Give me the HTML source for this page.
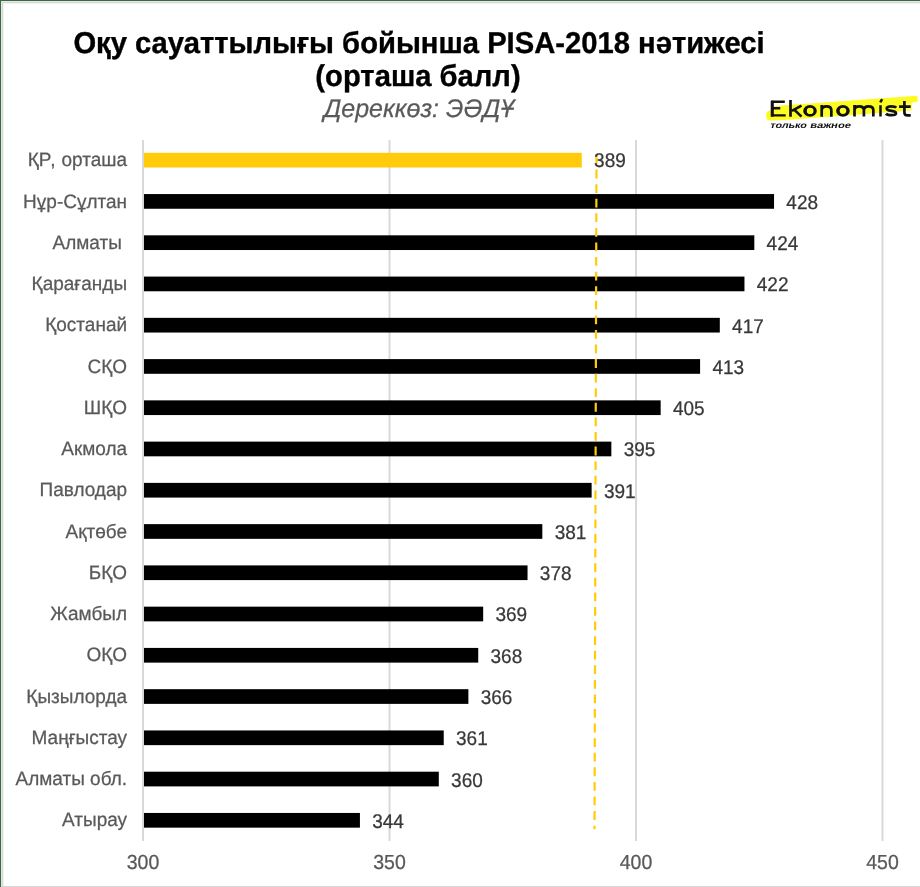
<!DOCTYPE html>
<html><head><meta charset="utf-8"><title>PISA-2018</title>
<style>
html,body{margin:0;padding:0;background:#fff;}
body{width:920px;height:887px;overflow:hidden;position:relative;font-family:"Liberation Sans",sans-serif;}
svg{position:absolute;left:0;top:0;display:block;}
.gs{filter:grayscale(1);}
text{font-family:"Liberation Sans",sans-serif;text-rendering:geometricPrecision;}
.cat{font-size:19px;fill:#595959;stroke:#595959;stroke-width:0.25px;}
.val{font-size:19px;fill:#383838;stroke:#383838;stroke-width:0.25px;}
.ax{font-size:19.5px;fill:#595959;stroke:#595959;stroke-width:0.25px;}
.t1{font-size:29.2px;font-weight:bold;fill:#000;stroke:#000;stroke-width:0.35px;}
.sub{font-size:25px;font-style:italic;fill:#595959;stroke:#595959;stroke-width:0.25px;}
</style></head>
<body>
<svg width="920" height="887" viewBox="0 0 920 887">
<rect x="0" y="0" width="920" height="887" fill="#fff"/>
<!-- frame -->
<rect x="0" y="0" width="920" height="1" fill="#386b40"/>
<rect x="0" y="0" width="1" height="887" fill="#386b40"/>
<rect x="1" y="1" width="919" height="1" fill="#e6e5e7"/>
<rect x="1" y="1" width="1" height="886" fill="#e6e5e7"/>
<rect x="2" y="2" width="918" height="1" fill="#d8d8d8"/>
<rect x="2" y="2" width="1" height="885" fill="#d8d8d8"/>
<rect x="3" y="3" width="917" height="1" fill="#f2f2f2"/>
<rect x="3" y="3" width="1" height="883" fill="#f2f2f2"/>
<rect x="1" y="886" width="919" height="1" fill="#d6d6d6"/>
<!-- title -->
<g class="gs">
<text class="t1" x="419" y="52.8" text-anchor="middle" transform="matrix(1,0,0,1.03,0,-1.584)">Оқу сауаттылығы бойынша PISA-2018 нәтижесі</text>
<text class="t1" x="418" y="85.8" text-anchor="middle" transform="matrix(1,0,0,1.03,0,-2.574)">(орташа балл)</text>
<text class="sub" x="419" y="117.2" text-anchor="middle" transform="matrix(1,0,0,1.02,0,-2.344)">Дереккөз: ЭӘДҰ</text>
</g>
<!-- logo -->
<path d="M766.2,114.5 C766.2,111.8 767.5,110.9 771,110.5 L775,106 L792,104.8 L917.2,95.8 L917.8,101.5 L912.3,102.5 L911.8,110.6 L792,119.5 L780,120.3 L768,120.6 C766.2,119 766,116 766.2,114.5 Z" fill="#FDFC22"/>
<path d="M905,103 L912.3,102.5 L911.8,110.6 L905,111.1 Z" fill="#FFF" fill-opacity="0.35"/>
<g fill="none" stroke="#111" stroke-width="2.7" stroke-linecap="butt" stroke-linejoin="miter">
<path d="M784.8,101.8 H772.2 V115.4 H785.7 M772.2,108.3 H780.3" stroke-width="2.4"/>
<path d="M772.2,100.8 V116.7" stroke-width="3"/>
<path d="M790.5,100 V116.7 M801.5,105.6 L791.9,110.9 M794.2,109.6 L801.5,116.6"/>
<path d="M821.7,116.8 V105.1 M821.7,110.5 C821.7,107.5 823.8,106.4 826.5,106.4 C829.2,106.4 831.35,107.5 831.35,110.5 V116.8"/>
<path d="M854.5,116.6 V105 M854.5,110.3 C854.5,107.4 856.3,106.3 859.2,106.3 C862,106.3 863.9,107.4 863.9,110.3 V116.6 M863.9,110.3 C863.9,107.4 865.7,106.3 868.6,106.3 C871.4,106.3 873.35,107.4 873.35,110.3 V116.6"/>
<path d="M880.5,105.3 V116.5 M880.2,102.4 L882.2,99.1" stroke-width="2.5"/>
<path d="M896.3,107.6 C895.3,106.5 893.5,106.3 891.3,106.3 C888,106.3 886.7,107.3 886.7,108.6 C886.7,110.2 888.5,110.6 891.3,110.9 C894.5,111.2 896,111.9 896,113.4 C896,114.9 894.3,115.1 891.3,115.1 C888.5,115.1 886.8,114.6 886,113.6"/>
<path d="M904.4,100.9 V112.4 C904.4,114.5 905.5,115.3 907.6,115.3 H910.7 M899.1,106.6 H910.7"/>
</g>
<path fill="#111" fill-rule="evenodd" d="M803.2,110.9 A6.8,5.8 0 1 0 816.8,110.9 A6.8,5.8 0 1 0 803.2,110.9 Z M806.8,110.9 A3.35,3.15 0 1 0 813.5,110.9 A3.35,3.15 0 1 0 806.8,110.9 Z"/>
<path fill="#111" fill-rule="evenodd" d="M836.1,110.85 A6.85,5.85 0 1 0 849.8,110.85 A6.85,5.85 0 1 0 836.1,110.85 Z M839.7,110.85 A3.3,3.15 0 1 0 846.3,110.85 A3.3,3.15 0 1 0 839.7,110.85 Z"/>
<g class="gs" transform="translate(0,128.2) skewX(-13)" style="font-size:8.6px;font-weight:bold;fill:#111">
<text x="769.8" y="0" textLength="36.6" lengthAdjust="spacingAndGlyphs">только</text>
<text x="809.7" y="0" textLength="40.8" lengthAdjust="spacingAndGlyphs">важное</text>
</g>
<!-- chart -->
<rect x="388.50" y="140" width="2" height="701" fill="#d9d9d9"/>
<rect x="635.00" y="140" width="2" height="701" fill="#d9d9d9"/>
<rect x="881.50" y="140" width="2" height="701" fill="#d9d9d9"/>
<rect x="142.00" y="140" width="2" height="701" fill="#d9d9d9"/>
<rect x="144.00" y="152.80" width="437.77" height="14.7" fill="#FFCB0A"/>
<rect x="144.00" y="194.06" width="630.04" height="14.7" fill="#000"/>
<rect x="144.00" y="235.32" width="610.32" height="14.7" fill="#000"/>
<rect x="144.00" y="276.58" width="600.46" height="14.7" fill="#000"/>
<rect x="144.00" y="317.84" width="575.81" height="14.7" fill="#000"/>
<rect x="144.00" y="359.10" width="556.09" height="14.7" fill="#000"/>
<rect x="144.00" y="400.36" width="516.65" height="14.7" fill="#000"/>
<rect x="144.00" y="441.62" width="467.35" height="14.7" fill="#000"/>
<rect x="144.00" y="482.88" width="447.63" height="14.7" fill="#000"/>
<rect x="144.00" y="524.14" width="398.33" height="14.7" fill="#000"/>
<rect x="144.00" y="565.40" width="383.54" height="14.7" fill="#000"/>
<rect x="144.00" y="606.66" width="339.17" height="14.7" fill="#000"/>
<rect x="144.00" y="647.92" width="334.24" height="14.7" fill="#000"/>
<rect x="144.00" y="689.18" width="324.38" height="14.7" fill="#000"/>
<rect x="144.00" y="730.44" width="299.73" height="14.7" fill="#000"/>
<rect x="144.00" y="771.70" width="294.80" height="14.7" fill="#000"/>
<rect x="144.00" y="812.96" width="215.92" height="14.7" fill="#000"/>
<line x1="596.5" y1="155" x2="594.5" y2="829.2" stroke="#FFCB0A" stroke-width="2.2" stroke-dasharray="8.8 5.78"/>
<g class="gs">
<text class="cat" x="127.1" y="166.30" text-anchor="end" transform="matrix(1,0,0,1.02,0,-3.326)">ҚР<tspan dx="2.2">,</tspan><tspan dx="0.8"> орташа</tspan></text>
<text class="val" x="594.07" y="166.80" transform="matrix(1,0,0,1.042,0,-7.006)">389</text>
<text class="cat" x="127.1" y="207.56" text-anchor="end" transform="matrix(1,0,0,1.02,0,-4.151)">Нұр-Сұлтан</text>
<text class="val" x="786.34" y="208.86" transform="matrix(1,0,0,1.042,0,-8.772)">428</text>
<text class="cat" x="127.1" y="248.82" text-anchor="end" transform="matrix(1,0,0,1.02,0,-4.976)">Алматы </text>
<text class="val" x="766.62" y="250.12" transform="matrix(1,0,0,1.042,0,-10.505)">424</text>
<text class="cat" x="127.1" y="290.08" text-anchor="end" transform="matrix(1,0,0,1.02,0,-5.802)">Қарағанды</text>
<text class="val" x="756.76" y="291.38" transform="matrix(1,0,0,1.042,0,-12.238)">422</text>
<text class="cat" x="127.1" y="331.34" text-anchor="end" transform="matrix(1,0,0,1.02,0,-6.627)">Қостанай</text>
<text class="val" x="732.11" y="332.64" transform="matrix(1,0,0,1.042,0,-13.971)">417</text>
<text class="cat" x="127.1" y="372.60" text-anchor="end" transform="matrix(1,0,0,1.02,0,-7.452)">СҚО</text>
<text class="val" x="712.39" y="373.90" transform="matrix(1,0,0,1.042,0,-15.704)">413</text>
<text class="cat" x="127.1" y="413.86" text-anchor="end" transform="matrix(1,0,0,1.02,0,-8.277)">ШҚО</text>
<text class="val" x="672.95" y="415.16" transform="matrix(1,0,0,1.042,0,-17.437)">405</text>
<text class="cat" x="127.1" y="455.12" text-anchor="end" transform="matrix(1,0,0,1.02,0,-9.102)">Акмола</text>
<text class="val" x="623.65" y="456.42" transform="matrix(1,0,0,1.042,0,-19.170)">395</text>
<text class="cat" x="127.1" y="496.38" text-anchor="end" transform="matrix(1,0,0,1.02,0,-9.928)">Павлодар</text>
<text class="val" x="603.93" y="497.68" transform="matrix(1,0,0,1.042,0,-20.903)">391</text>
<text class="cat" x="127.1" y="537.64" text-anchor="end" transform="matrix(1,0,0,1.02,0,-10.753)">Ақтөбе</text>
<text class="val" x="554.63" y="538.94" transform="matrix(1,0,0,1.042,0,-22.635)">381</text>
<text class="cat" x="127.1" y="578.90" text-anchor="end" transform="matrix(1,0,0,1.02,0,-11.578)">БҚО</text>
<text class="val" x="539.84" y="580.20" transform="matrix(1,0,0,1.042,0,-24.368)">378</text>
<text class="cat" x="127.1" y="620.16" text-anchor="end" transform="matrix(1,0,0,1.02,0,-12.403)">Жамбыл</text>
<text class="val" x="495.47" y="621.46" transform="matrix(1,0,0,1.042,0,-26.101)">369</text>
<text class="cat" x="127.1" y="661.42" text-anchor="end" transform="matrix(1,0,0,1.02,0,-13.228)">ОҚО</text>
<text class="val" x="490.54" y="662.72" transform="matrix(1,0,0,1.042,0,-27.834)">368</text>
<text class="cat" x="127.1" y="702.68" text-anchor="end" transform="matrix(1,0,0,1.02,0,-14.054)">Қызылорда</text>
<text class="val" x="480.68" y="703.98" transform="matrix(1,0,0,1.042,0,-29.567)">366</text>
<text class="cat" x="127.1" y="743.94" text-anchor="end" transform="matrix(1,0,0,1.02,0,-14.879)">Маңғыстау</text>
<text class="val" x="456.03" y="745.24" transform="matrix(1,0,0,1.042,0,-31.300)">361</text>
<text class="cat" x="127.1" y="785.20" text-anchor="end" transform="matrix(1,0,0,1.02,0,-15.704)">Алматы обл.</text>
<text class="val" x="451.10" y="786.50" transform="matrix(1,0,0,1.042,0,-33.033)">360</text>
<text class="cat" x="127.1" y="826.46" text-anchor="end" transform="matrix(1,0,0,1.02,0,-16.529)">Атырау</text>
<text class="val" x="372.22" y="827.76" transform="matrix(1,0,0,1.042,0,-34.766)">344</text>
<text class="ax" x="143.00" y="869.2" text-anchor="middle" transform="matrix(1,0,0,1.042,0,-36.506)">300</text>
<text class="ax" x="389.50" y="869.2" text-anchor="middle" transform="matrix(1,0,0,1.042,0,-36.506)">350</text>
<text class="ax" x="636.00" y="869.2" text-anchor="middle" transform="matrix(1,0,0,1.042,0,-36.506)">400</text>
<text class="ax" x="882.50" y="869.2" text-anchor="middle" transform="matrix(1,0,0,1.042,0,-36.506)">450</text>
</g>
</svg>
</body></html>
